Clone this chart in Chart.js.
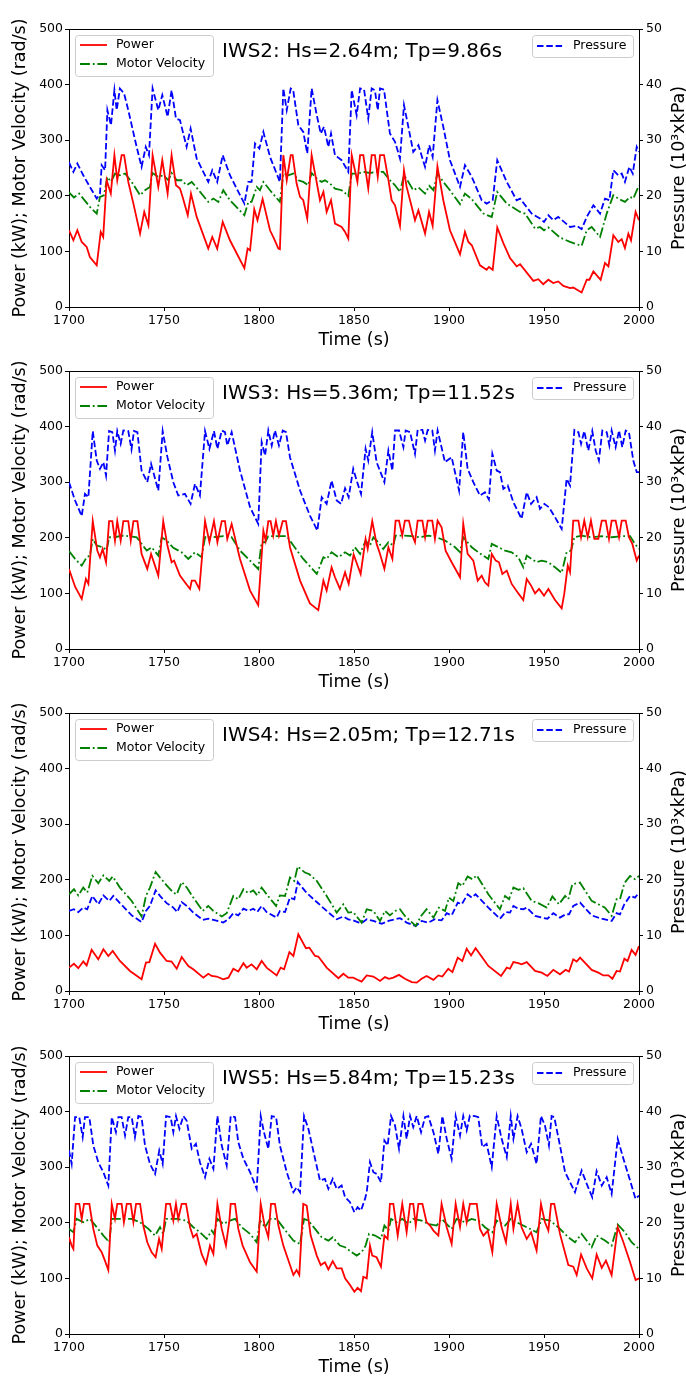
<!DOCTYPE html>
<html>
<head>
<meta charset="utf-8">
<script src="https://cdn.jsdelivr.net/npm/chart.js@4"></script>
<style>
html, body { margin: 0; padding: 0; background: #fff; width: 686px; height: 1378px; overflow: hidden; }
canvas { position: absolute; left: 0; }
</style>
</head>
<body>
<canvas id="c0" width="690" height="352" style="top:0px"></canvas>
<canvas id="c1" width="690" height="352" style="top:342px"></canvas>
<canvas id="c2" width="690" height="352" style="top:684px"></canvas>
<canvas id="c3" width="690" height="352" style="top:1027px"></canvas>
<script>
// panel titles and legend names
const panelTitles = ["IWS2: Hs=2.64m; Tp=9.86s", "IWS3: Hs=5.36m; Tp=11.52s", "IWS4: Hs=2.05m; Tp=12.71s", "IWS5: Hs=5.84m; Tp=15.23s"];
const seriesLabels = ["Power", "Motor Velocity", "Pressure"];
const timeRange = [1700, 2000];
const leftRange = [0, 500];   // kW / rad/s
const rightRange = [0, 50];   // 10^3 kPa

// [time (s), value]
const iws2Power = [[1700,138],[1702.3,120],[1704.4,138],[1706.7,117],[1709.3,108],[1711,90],[1714.6,75],[1716.7,135],[1718,126],[1719.8,228],[1722,204],[1723.9,273],[1725.4,228],[1727.7,273],[1729,273],[1731.2,225],[1733.9,186],[1737.4,132],[1739.6,171],[1741.8,147],[1744,273],[1747,216],[1749.1,264],[1751.9,204],[1754,273],[1756.3,219],[1758.4,213],[1759.8,198],[1762.5,165],[1764.2,204],[1767.2,162],[1773.3,105],[1775.4,126],[1778,105],[1780.9,153],[1784.7,120],[1792.3,70],[1794,105],[1795.3,102],[1797.5,176],[1799.2,156],[1801.9,194],[1805.8,138],[1807.9,123],[1810.2,105],[1811,104],[1812.8,273],[1814.6,228],[1816.7,273],[1817.7,273],[1819.8,222],[1821.6,198],[1823.3,192],[1825.4,159],[1827.7,273],[1830,231],[1832.1,192],[1833.9,207],[1835.6,171],[1837.9,192],[1840,150],[1843.5,144],[1845.3,135],[1847,123],[1848.8,273],[1851.8,225],[1853.2,273],[1854.9,273],[1857.5,213],[1859.3,273],[1861,273],[1862.5,234],[1863.7,273],[1865.8,273],[1868,231],[1869.8,192],[1871.6,183],[1874.2,146],[1876.3,246],[1877.7,216],[1880.4,180],[1882.1,156],[1883.9,174],[1887.4,132],[1889.5,171],[1891.4,146],[1893.9,253],[1897,192],[1900.5,138],[1905.8,95],[1908.4,135],[1910.2,117],[1912,111],[1916.3,75],[1919.8,67],[1921,72],[1923,67],[1925.4,143],[1928.6,115],[1932.1,88],[1935.6,73],[1937.4,77],[1944.4,47],[1947,50],[1949.6,41],[1952.3,49],[1954.9,43],[1957.5,46],[1960.2,38],[1963.7,34],[1965.4,35],[1969.8,26],[1972.5,49],[1973.9,49],[1976,64],[1979.8,49],[1982.1,79],[1983.9,73],[1986.5,129],[1989.1,117],[1990.9,122],[1992.6,106],[1994.4,132],[1995.8,120],[1998.2,171],[2000,156]];
const iws2Velocity = [[1700,206],[1702.6,197],[1705.3,204],[1707.5,195],[1711,180],[1714.6,168],[1716.3,198],[1718.4,201],[1720.2,234],[1722.1,225],[1724.2,240],[1726.8,237],[1729.5,240],[1733,225],[1737.4,201],[1740,210],[1742.6,216],[1743.9,241],[1747,234],[1749.6,237],[1752.3,228],[1754,241],[1756.7,228],[1759.3,228],[1761.9,219],[1764.6,225],[1769,207],[1773.3,189],[1776,195],[1778.6,189],[1781.2,210],[1784.7,192],[1792.3,165],[1794.4,189],[1796.1,189],[1798.8,216],[1800.5,210],[1802.3,225],[1805.8,210],[1811,189],[1812.8,240],[1815.4,237],[1818,240],[1820.7,228],[1823.3,225],[1825.9,219],[1827.7,241],[1830.4,231],[1833,225],[1834.7,228],[1837.4,222],[1840,213],[1843.5,210],[1847,200],[1848.8,240],[1852.3,240],[1854.9,243],[1858.4,241],[1861.9,243],[1865.4,243],[1868.9,228],[1871.6,219],[1874.2,207],[1876.3,237],[1878.6,225],[1881.2,210],[1883.9,215],[1887.4,204],[1889.6,218],[1891.8,210],[1893.9,240],[1897,225],[1900.5,210],[1905.8,185],[1908.4,204],[1912,194],[1918.1,168],[1922.5,162],[1925.4,207],[1930.4,186],[1937.4,171],[1940,168],[1945.3,141],[1947.9,144],[1950,138],[1952.3,143],[1958.4,125],[1963.7,117],[1969.8,110],[1972.5,138],[1975.1,144],[1979.5,126],[1983,168],[1986.5,201],[1989.1,195],[1992.6,189],[1995.3,198],[1997,195],[2000,219]];
const iws2Pressure = [[1700,26.0],[1702.3,24.3],[1704.4,25.8],[1707.5,23.7],[1711,21.6],[1714.6,19.5],[1716.3,20.4],[1717.2,25.5],[1719,24.6],[1720.2,35.4],[1722.1,32.7],[1723.9,39.0],[1725.1,35.4],[1726.8,39.3],[1729,38.4],[1731.2,35.4],[1735.6,28.8],[1738.2,25.2],[1740.4,28.8],[1742.1,27.3],[1744,39.3],[1747,35.4],[1749.1,38.1],[1751.9,34.2],[1754,39.0],[1756.3,33.9],[1758.4,33.6],[1761.9,28.8],[1764,32.1],[1767.2,26.7],[1773.3,22.5],[1775.4,24.6],[1778,22.5],[1780.9,27.3],[1784.7,23.7],[1792.3,18.6],[1794.4,22.5],[1796.1,22.5],[1797.9,29.4],[1800.2,28.5],[1802.3,31.5],[1805.8,27.0],[1811,22.5],[1812.8,39.3],[1814.6,35.4],[1816.7,39.3],[1818,39.0],[1820.7,32.7],[1823.3,31.5],[1825.4,27.6],[1827.7,39.3],[1830.4,34.5],[1832.5,31.2],[1834.2,32.4],[1836.5,28.8],[1837.9,31.2],[1840,27.3],[1843.5,26.4],[1847,24.3],[1848.8,39.0],[1851.4,34.5],[1853.2,39.3],[1855.3,39.1],[1857.5,33.9],[1859.3,39.3],[1861,39.0],[1862.5,35.4],[1863.7,39.3],[1865.8,39.1],[1868.9,31.2],[1871.6,29.7],[1874.2,26.7],[1876.3,36.3],[1878.6,32.4],[1881.2,27.9],[1883.9,29.1],[1887.4,25.2],[1889.6,29.1],[1891.4,27.0],[1893.9,37.2],[1897,32.4],[1900.5,26.4],[1905.8,21.6],[1908.4,25.5],[1912,23.4],[1917.2,19.2],[1919.8,18.6],[1923,19.2],[1925.4,26.4],[1930.4,22.5],[1935.6,19.2],[1937.4,19.5],[1943.5,16.8],[1947.9,15.9],[1950,15.3],[1952.3,16.5],[1954.9,15.6],[1957.5,16.2],[1963.7,14.4],[1967.2,14.6],[1969.8,14.0],[1972.5,16.2],[1976,18.3],[1979.5,16.8],[1982.1,19.5],[1984.4,19.2],[1986.5,24.6],[1989.1,23.7],[1990.9,24.0],[1992.6,22.5],[1994.9,25.2],[1996.7,24.0],[1998.8,28.8],[2000,27.9]];

const iws3Power = [[1700,144],[1703.2,112],[1706.7,90],[1708.9,126],[1710.2,117],[1712.5,230],[1714.9,177],[1716.3,165],[1717.7,180],[1719.5,156],[1721.1,230],[1722.8,230],[1724.2,195],[1725.4,230],[1727.2,195],[1728.6,230],[1731.2,230],[1732.5,195],[1733.9,230],[1736,230],[1738.2,171],[1741.2,144],[1743.2,171],[1747,132],[1749.6,230],[1751.8,186],[1754,156],[1755.3,159],[1758.4,132],[1761,120],[1763.7,108],[1764.6,123],[1766.3,123],[1768.6,108],[1771.6,230],[1773.9,192],[1776.3,230],[1778.1,192],[1780.4,230],[1782.1,230],[1783.3,198],[1785.6,225],[1790,162],[1795.3,105],[1799.6,79],[1802.3,213],[1803.5,195],[1804.9,230],[1806.1,230],[1807.5,204],[1808.9,230],[1810.5,204],[1812.5,230],[1814.2,230],[1816.3,183],[1821.6,123],[1826.8,82],[1831.2,70],[1833.9,123],[1835.6,105],[1838.2,147],[1840,129],[1842.6,108],[1845.3,138],[1847.2,117],[1849.8,170],[1853.5,135],[1856.1,198],[1857.2,180],[1859.6,230],[1861.9,189],[1863.7,171],[1866,144],[1868.1,183],[1870.2,162],[1871.9,231],[1873.7,231],[1875.4,204],[1876.8,231],[1878.9,231],[1880.7,204],[1882.1,192],[1883.5,231],[1886,231],[1887.4,201],[1888.8,231],[1891.2,231],[1892.6,198],[1894,231],[1896.1,219],[1898.2,177],[1901.4,156],[1905.8,129],[1907.5,225],[1909.8,171],[1912.8,159],[1915.1,123],[1917.2,132],[1918.9,120],[1920.7,114],[1922.5,171],[1924.6,159],[1926.3,156],[1928.1,135],[1930.4,141],[1933,117],[1936.5,100],[1939.1,88],[1940.9,126],[1943.2,114],[1945.3,100],[1947.4,108],[1950,96],[1952.3,108],[1955.8,88],[1959.3,73],[1960.7,100],[1962.5,150],[1963.7,138],[1965.4,231],[1968.1,231],[1969.5,201],[1971.2,231],[1973,201],[1974.7,231],[1976.5,198],[1978.6,198],[1980.4,231],[1982.5,231],[1984.2,198],[1985.6,231],[1987.7,231],[1989.5,201],[1990.9,231],[1993,231],[1994.7,201],[1996.5,189],[1998.8,159],[2000,168]];
const iws3Velocity = [[1700,176],[1703.2,162],[1706.7,150],[1709.3,165],[1711,168],[1712.5,198],[1714.6,186],[1718.1,183],[1719.8,177],[1721.1,201],[1724.2,201],[1727.7,204],[1731.2,203],[1735.6,201],[1740.9,177],[1743.5,183],[1747,168],[1748.8,201],[1751.4,195],[1754.9,182],[1759.3,174],[1762.8,162],[1766.3,174],[1769.8,165],[1771.6,201],[1776,201],[1781.2,203],[1785.6,201],[1790,177],[1795.3,159],[1799.6,144],[1801.4,192],[1803.2,192],[1804.9,203],[1809.3,203],[1814.6,203],[1818.1,186],[1823.3,162],[1830.4,135],[1833.9,165],[1835.6,162],[1838.2,174],[1841.8,165],[1845.3,174],[1847.9,168],[1850.5,183],[1853.2,171],[1856.1,195],[1858.4,186],[1860.2,201],[1862.8,192],[1865.4,180],[1868.1,192],[1870.7,186],[1871.9,204],[1876,204],[1880.4,203],[1884.7,201],[1889.1,204],[1893.5,201],[1897.9,195],[1903.2,183],[1905.8,174],[1907.5,201],[1912,183],[1915.4,174],[1920.7,162],[1922.5,189],[1926,183],[1929.5,177],[1933,174],[1936.5,165],[1939.1,147],[1940.9,168],[1943.5,162],[1946.1,156],[1948.8,159],[1952.3,156],[1955.8,147],[1959.3,137],[1961.9,174],[1964.2,177],[1966,201],[1969.8,204],[1975.1,201],[1980.4,203],[1985.6,201],[1990.9,203],[1995.3,203],[1997.9,189],[2000,180]];
const iws3Pressure = [[1700,30.0],[1703.2,26.7],[1706.7,23.9],[1708.4,27.9],[1710.2,27.3],[1712.5,39.2],[1714.6,33.9],[1716.3,32.4],[1718.1,33.6],[1719.5,31.2],[1721.1,39.2],[1722.8,39.0],[1724.2,35.7],[1725.4,39.2],[1727.2,36.9],[1728.6,39.3],[1731.2,39.2],[1732.9,35.9],[1734.2,39.2],[1736,39.0],[1738.2,32.1],[1741.2,30.0],[1743.2,33.3],[1747,28.5],[1749.3,39.2],[1751.8,34.5],[1754.9,30.0],[1757.5,27.6],[1761,27.9],[1764,26.1],[1766.3,29.7],[1768.9,27.6],[1771.6,39.2],[1773.9,36.0],[1776.3,39.2],[1778.1,36.0],[1780.4,39.3],[1782.1,39.0],[1783.3,36.6],[1785.6,39.0],[1790,32.1],[1795.3,25.5],[1799.6,22.5],[1801.4,37.2],[1803.2,34.8],[1804.9,39.3],[1806.7,36.6],[1808.4,39.3],[1810.5,36.6],[1812.5,39.3],[1814.2,39.0],[1816.3,34.5],[1821.6,28.5],[1826.8,24.0],[1830.7,21.3],[1833,27.3],[1835.6,26.1],[1838.2,30.3],[1840.9,26.7],[1843.2,26.1],[1845.3,28.9],[1847.2,27.3],[1849.6,32.4],[1851.4,30.3],[1853.7,27.9],[1856.1,36.0],[1857.5,33.9],[1859.6,39.0],[1861.9,33.6],[1866,30.0],[1868.1,35.7],[1870.2,32.1],[1871.6,39.3],[1873.7,39.3],[1876,36.3],[1877.2,39.3],[1879.5,39.0],[1882.1,35.1],[1883.5,39.4],[1886,39.4],[1887.4,37.5],[1888.8,39.4],[1891.2,39.3],[1892.6,35.7],[1894,39.3],[1897.9,33.6],[1901.4,34.5],[1905.3,28.5],[1907.5,39.0],[1909.8,32.4],[1912.8,30.0],[1916.3,27.6],[1918.9,28.2],[1921,26.9],[1922.8,35.1],[1925.1,32.1],[1926.8,31.8],[1928.6,28.8],[1930.9,29.4],[1933.9,26.4],[1938.2,23.4],[1940.9,28.2],[1943.2,26.1],[1946.1,27.3],[1947.9,25.2],[1950.2,26.1],[1952.6,25.5],[1955.8,23.7],[1959.3,21.6],[1961.9,30.6],[1963.7,29.4],[1966,39.4],[1968.1,39.0],[1969.5,36.9],[1971.2,39.2],[1973.3,35.7],[1975.4,39.2],[1977.2,35.7],[1978.9,33.9],[1980.7,39.3],[1983,39.0],[1984.4,36.6],[1985.6,39.3],[1987.7,36.3],[1989.5,39.3],[1991.2,36.3],[1993,39.3],[1994.7,39.0],[1997,33.9],[1998.8,31.8],[2000,31.8]];

const iws4Power = [[1700,42],[1702.6,49],[1704.9,41],[1707.5,53],[1709.3,46],[1711.9,74],[1715.4,57],[1718.1,75],[1720.7,63],[1723,72],[1726.8,54],[1732.1,36],[1738.2,21],[1740.5,51],[1742.3,52],[1745.3,85],[1747.9,69],[1751.4,54],[1754,53],[1756.7,40],[1759.3,61],[1762.8,45],[1765.4,39],[1770.7,24],[1773.3,31],[1775.1,27],[1777.7,26],[1781.2,21],[1783.9,24],[1786.5,40],[1789.1,35],[1791.8,50],[1793.5,42],[1796.1,48],[1798.8,39],[1801.4,54],[1804,42],[1809.3,28],[1811.4,42],[1813.2,39],[1816,70],[1818.1,63],[1820.7,102],[1824.7,77],[1826.5,78],[1829.5,63],[1831.2,62],[1835.6,42],[1841.8,23],[1844.4,31],[1847,24],[1849.6,24],[1852.6,19],[1854,17],[1856.7,28],[1860.2,26],[1863.7,18],[1866.3,25],[1868.4,22],[1870.7,24],[1873.7,29],[1876.8,22],[1880.4,16],[1883,15],[1885.6,22],[1888.2,27],[1891.8,20],[1894.4,28],[1896.5,26],[1899.6,40],[1901.8,34],[1904.6,60],[1907,54],[1909.3,76],[1911.6,64],[1914,77],[1920.7,45],[1927.4,27],[1930.4,42],[1932.1,40],[1933.9,52],[1936.5,50],[1938.2,48],[1940.9,52],[1945.3,36],[1948.8,33],[1951.8,27],[1954.9,38],[1958.4,30],[1961.4,38],[1963.2,35],[1965.4,57],[1967.2,53],[1969,60],[1975.1,38],[1978.6,33],[1981.2,28],[1983.9,28],[1986,22],[1988.2,36],[1990,35],[1992.3,58],[1994,54],[1996.1,74],[1998.2,65],[2000,81]];
const iws4Velocity = [[1700,174],[1702.6,183],[1704.9,172],[1707.5,186],[1709.6,177],[1712.3,207],[1715.4,194],[1718.1,208],[1721.2,198],[1723,206],[1726.8,186],[1733,162],[1738.2,134],[1740.5,171],[1742.6,186],[1745.6,214],[1747.9,204],[1751.4,190],[1754.9,177],[1756.7,174],[1759.3,196],[1762,186],[1765.4,168],[1770.4,144],[1773.3,153],[1776,144],[1780.4,134],[1783,140],[1786.5,171],[1789.1,165],[1791.8,183],[1794.4,176],[1797,181],[1799.1,172],[1801.4,186],[1804,174],[1809,153],[1811,172],[1813.7,171],[1816.3,204],[1818.6,198],[1820.4,224],[1824.2,213],[1826.5,210],[1830.4,198],[1835.6,171],[1840.9,141],[1844.4,156],[1847,141],[1849.6,142],[1852.6,129],[1854,123],[1856.7,147],[1860.2,144],[1863.7,126],[1866.3,144],[1868.9,136],[1871.6,144],[1874.2,147],[1876.8,135],[1882.5,117],[1885.3,135],[1888.2,147],[1891.8,132],[1894.7,150],[1897.9,144],[1900,168],[1902.3,162],[1904.9,194],[1907,189],[1909.8,206],[1912.3,201],[1914.6,208],[1920.7,174],[1926.8,147],[1929.5,171],[1931.6,165],[1933.9,186],[1936.5,182],[1939.1,185],[1943.5,162],[1947,158],[1951.4,150],[1954.4,170],[1957.9,156],[1961.1,171],[1962.8,165],[1964.9,192],[1968.9,195],[1975.1,162],[1978.6,156],[1982.1,150],[1985.6,135],[1988.2,165],[1990,165],[1992.3,194],[1995.3,207],[1997.9,201],[2000,207]];
const iws4Pressure = [[1700,14.4],[1702.6,14.7],[1704.9,14.2],[1707.5,15.0],[1709.6,14.7],[1712.3,17.1],[1715.4,15.6],[1718.1,17.2],[1721.2,16.2],[1723.3,17.1],[1726.8,15.8],[1733,13.6],[1738.2,12.4],[1740.5,14.4],[1742.6,15.3],[1745.6,18.1],[1747.9,17.1],[1751.4,15.8],[1754.9,15.0],[1757,14.2],[1759.3,16.0],[1762,15.3],[1765.4,14.1],[1770.4,12.8],[1773.3,13.0],[1776,12.8],[1781.2,12.3],[1783.9,12.9],[1786.5,14.0],[1789.1,13.6],[1791.8,14.8],[1794.4,14.4],[1797,14.8],[1799.1,14.2],[1801.4,15.3],[1804,14.2],[1809.3,13.2],[1811,14.4],[1813.7,14.2],[1816.3,16.8],[1818.6,16.5],[1820.4,19.6],[1824.2,18.0],[1826.8,17.1],[1830.4,16.0],[1835.6,14.4],[1840.9,12.9],[1844.4,13.4],[1847,12.9],[1849.6,12.7],[1852.6,12.3],[1854,12.2],[1856.7,12.9],[1860.2,12.6],[1864.6,12.1],[1868.1,12.6],[1874.2,13.1],[1877.7,12.3],[1882.5,11.7],[1885.6,12.6],[1889.1,12.3],[1892.6,12.9],[1896.1,12.7],[1898.8,14.0],[1901.4,13.6],[1904.6,15.9],[1906.7,15.6],[1909.8,17.4],[1912,16.8],[1914,17.4],[1920.7,15.0],[1926.8,13.0],[1929.8,14.2],[1932.1,14.1],[1933.9,15.3],[1936.5,14.8],[1939.1,14.7],[1940.9,15.0],[1945.3,13.5],[1948.8,13.2],[1951.8,13.0],[1954.9,14.0],[1958.4,13.2],[1961.4,13.8],[1963.2,13.8],[1965.4,15.3],[1969,15.9],[1975.1,13.6],[1980.4,13.0],[1985.6,12.6],[1988.2,14.0],[1990,13.8],[1992.3,15.6],[1995.3,17.1],[1997.9,16.8],[2000,17.7]];

const iws5Power = [[1700,174],[1701.4,159],[1702.3,153],[1703.5,234],[1705.4,234],[1706.7,207],[1707.9,234],[1710.7,234],[1712.8,189],[1714.9,159],[1717.2,147],[1718.9,132],[1720.7,115],[1722.5,234],[1724.2,207],[1725.4,234],[1727.7,234],[1728.9,201],[1730.4,234],[1732.5,234],[1733.9,201],[1735.3,234],[1737.4,234],[1739.1,195],[1741.2,165],[1743.5,147],[1745.6,138],[1747.4,171],[1748.8,153],[1751.1,234],[1753.2,234],[1754.9,204],[1756.3,234],[1757.5,207],[1759.3,234],[1761.6,234],[1763.7,192],[1765.4,174],[1767.2,180],[1769.8,144],[1772.1,126],[1774.2,159],[1776,144],[1778.1,234],[1780.4,189],[1782.6,159],[1784.4,204],[1785.1,234],[1787.4,234],[1789.1,189],[1791.4,159],[1795.3,129],[1798.8,112],[1800.9,234],[1802.8,198],[1804.9,174],[1806.3,234],[1808.4,234],[1810.2,195],[1812.8,159],[1816.3,124],[1818.1,106],[1819.8,115],[1821.2,106],[1823.3,234],[1825.1,231],[1827.2,177],[1830.4,141],[1832.5,124],[1834.7,129],[1836.5,116],[1838.8,131],[1840.9,118],[1843.5,118],[1845.3,100],[1847.9,88],[1850.2,76],[1851.9,83],[1853.7,77],[1854.9,103],[1856.7,100],[1858.4,159],[1859.6,141],[1861.9,138],[1864.2,121],[1866,177],[1867.7,171],[1868.9,234],[1870.7,234],[1873,177],[1875.4,234],[1877.7,183],[1879.5,234],[1881.2,234],[1882.5,195],[1883.9,234],[1886,234],[1888.2,201],[1890,195],[1891.8,186],[1894.4,177],[1896.1,234],[1898.8,192],[1901.4,162],[1903.5,234],[1905.8,192],[1907.5,234],[1909.3,201],[1911,234],[1912.8,234],[1914.6,234],[1916.3,189],[1918.1,177],[1920.4,186],[1922.8,147],[1925.1,234],[1927.7,192],[1930,165],[1932.5,234],[1933.9,189],[1936.1,234],[1938.2,192],[1940.9,171],[1943.2,183],[1946.1,150],[1948.4,234],[1950.5,201],[1952.3,186],[1953.7,234],[1955.4,234],[1958.4,180],[1962.8,124],[1965.4,121],[1967.2,106],[1969.5,143],[1972.5,118],[1975.4,100],[1977.7,143],[1980.4,119],[1982.6,132],[1985.6,106],[1988.8,192],[1991.8,165],[1995.3,129],[1998.2,97],[2000,100]];
const iws5Velocity = [[1700,189],[1702.3,183],[1704,207],[1707.5,201],[1711.1,207],[1714.6,192],[1718.1,177],[1721.2,165],[1722.5,207],[1727.7,207],[1733,207],[1737.4,201],[1741.8,189],[1745.3,177],[1747.9,192],[1749.6,180],[1751.1,207],[1756.7,207],[1761.9,204],[1765.4,192],[1768.9,183],[1772.5,171],[1775.1,186],[1776.3,180],[1778.1,207],[1781.2,198],[1784.7,204],[1787.4,207],[1790.9,192],[1795.3,180],[1798.8,165],[1800.5,204],[1803.2,192],[1805.8,207],[1809.3,207],[1814.6,183],[1818.1,168],[1821.6,162],[1823.7,207],[1826,204],[1829.5,189],[1833,174],[1836.5,168],[1838.8,174],[1842.6,159],[1845.3,156],[1848.8,147],[1851.4,141],[1854,147],[1856.1,159],[1857.9,180],[1861.1,177],[1864.2,171],[1866,195],[1868.1,186],[1869.5,207],[1872.5,201],[1875.4,207],[1878.6,198],[1881.2,207],[1885.6,204],[1889.1,198],[1893.5,195],[1896.1,207],[1901.4,189],[1904,207],[1908.4,201],[1911.9,207],[1915.4,204],[1918.9,192],[1922.8,183],[1925.1,204],[1929.5,195],[1932.5,207],[1935.6,201],[1940.9,192],[1946.1,183],[1948.8,207],[1953.2,204],[1957.5,192],[1962.8,174],[1966.3,165],[1969.8,180],[1975.1,156],[1977.7,177],[1982.1,168],[1985.6,159],[1988.8,197],[1992.6,183],[1996.1,165],[2000,153]];
const iws5Pressure = [[1700,33.0],[1701.4,30.6],[1703.2,39.0],[1705.4,39.0],[1707.2,35.4],[1708.4,39.0],[1710.7,39.0],[1712.8,33.9],[1715.4,30.9],[1718.1,29.1],[1720.7,26.7],[1722.5,39.0],[1724.7,36.3],[1726,39.0],[1727.7,39.0],[1729.5,35.7],[1731.2,39.0],[1733,39.0],[1734.7,35.4],[1736.5,39.2],[1738.2,39.0],[1740,33.9],[1742.6,30.6],[1745.3,28.8],[1747.5,33.0],[1749.3,30.6],[1751.1,39.2],[1753.5,39.0],[1754.9,36.3],[1756.3,39.2],[1758.1,36.9],[1760.2,39.2],[1761.9,38.4],[1764.6,33.3],[1766.8,34.2],[1768.9,30.9],[1771.6,28.2],[1773.9,31.5],[1776,29.7],[1778.1,39.2],[1780.4,33.9],[1783,30.3],[1785.1,39.2],[1787.4,39.0],[1789.1,34.5],[1791.8,31.5],[1795.3,29.1],[1798.8,26.1],[1800.9,39.2],[1802.6,36.3],[1804.9,33.3],[1806.7,39.2],[1809,39.0],[1811,33.9],[1814.6,29.1],[1818.1,25.5],[1819.8,26.4],[1821.6,25.5],[1823.7,39.2],[1826,36.9],[1829.5,31.5],[1832.1,27.6],[1834.7,27.9],[1836.5,26.1],[1838.8,27.9],[1840.9,26.1],[1843.5,26.7],[1845.3,24.6],[1847.9,23.7],[1850.2,21.9],[1851.9,22.8],[1853.7,22.2],[1855.8,24.3],[1856.7,25.5],[1858.4,30.9],[1860.2,29.1],[1861.9,28.8],[1864.2,27.3],[1866,34.8],[1867.7,33.9],[1869.5,39.2],[1871.6,37.5],[1873.7,33.3],[1876,39.2],[1877.7,35.1],[1879.5,39.2],[1881.2,37.2],[1883,39.2],[1885.3,36.3],[1887.4,39.0],[1889.1,39.2],[1891.8,36.3],[1894.4,32.4],[1896.5,39.2],[1898.8,35.1],[1901.4,31.5],[1903.5,39.2],[1905.8,35.7],[1907.5,39.2],[1909.3,36.6],[1911,39.3],[1913.7,39.2],[1915.4,39.0],[1917.5,33.6],[1919.8,34.2],[1922.5,30.0],[1925.1,39.2],[1927.7,35.1],[1930.4,31.8],[1932.5,39.2],[1933.9,35.1],[1936.1,39.2],[1938.2,36.9],[1940.9,32.7],[1943.2,34.2],[1946.1,30.6],[1948.4,39.2],[1950.5,37.5],[1952.6,33.9],[1954,39.2],[1955.4,39.0],[1958.4,33.9],[1961.1,29.1],[1963.7,27.3],[1966.3,25.5],[1969.8,29.4],[1972.5,27.0],[1975.4,24.6],[1977.7,29.3],[1980.4,26.7],[1983,28.2],[1985.6,25.2],[1988.8,35.1],[1991.8,31.5],[1995.3,27.6],[1998.2,24.3],[2000,24.9]];

const panels = [
    [iws2Power, iws2Velocity, iws2Pressure],
    [iws3Power, iws3Velocity, iws3Pressure],
    [iws4Power, iws4Velocity, iws4Pressure],
    [iws5Power, iws5Velocity, iws5Pressure]
];

const FONT = "DejaVu Sans";
Chart.defaults.font.family = FONT;
Chart.defaults.color = "#000";

const LW = 1.8;
const styles = [
    { color: "#ff0000", dash: [], axis: "y" },
    { color: "#008000", dash: [10, 2.8, 1.8, 2.8], axis: "y" },
    { color: "#0000ff", dash: [6.5, 2.8], axis: "y2" }
];

function legendBox(ctx, x, y, w, h) {
    ctx.beginPath();
    ctx.roundRect(x + 0.5, y + 0.5, w, h, 3);
    ctx.fillStyle = "rgba(255,255,255,0.8)";
    ctx.fill();
    ctx.strokeStyle = "#cccccc";
    ctx.lineWidth = 1;
    ctx.stroke();
}

function legendLine(ctx, x1, x2, y, s) {
    ctx.save();
    ctx.setLineDash(s.dash);
    ctx.strokeStyle = s.color;
    ctx.lineWidth = LW;
    ctx.beginPath();
    ctx.moveTo(x1, y);
    ctx.lineTo(x2, y);
    ctx.stroke();
    ctx.restore();
}

// frame top, legends, in-plot title and the right-hand axis title
const overlay = {
    id: "overlay",
    afterDraw(chart, args, opts) {
        const ctx = chart.ctx;
        const a = chart.chartArea;
        ctx.save();
        ctx.strokeStyle = "#000";
        ctx.lineWidth = 1;
        ctx.beginPath();
        ctx.moveTo(a.left, a.top + 0.5);
        ctx.lineTo(a.right, a.top + 0.5);
        ctx.stroke();

        ctx.font = "12.5px '" + FONT + "'";
        ctx.textBaseline = "middle";
        ctx.textAlign = "left";

        legendBox(ctx, a.left + 6, a.top + 6, 138, 41);
        legendLine(ctx, a.left + 11, a.left + 38, a.top + 16, styles[0]);
        legendLine(ctx, a.left + 11, a.left + 38, a.top + 35, styles[1]);
        ctx.fillStyle = "#000";
        ctx.fillText(seriesLabels[0], a.left + 47, a.top + 16);
        ctx.fillText(seriesLabels[1], a.left + 47, a.top + 35);

        legendBox(ctx, a.right - 107, a.top + 6, 101, 22);
        legendLine(ctx, a.right - 102, a.right - 76, a.top + 17, styles[2]);
        ctx.fillStyle = "#000";
        ctx.fillText(seriesLabels[2], a.right - 66, a.top + 17);

        ctx.font = "20px '" + FONT + "'";
        ctx.fillText(opts.title, a.left + 153, a.top + 23);

        ctx.translate(679, (a.top + a.bottom) / 2);
        ctx.rotate(-Math.PI / 2);
        ctx.textAlign = "center";
        ctx.font = "17.5px '" + FONT + "'";
        ctx.fillText("Pressure (10³xkPa)", 0, 0);
        ctx.restore();
    }
};

const tickFont = { size: 12.5 };
const titleFont = { size: 17.5 };
const axisGrid = { drawOnChartArea: false, drawTicks: true, tickLength: 4, color: "#000" };
const axisBorder = { display: true, color: "#000", width: 1 };

panels.forEach(function (series, i) {
    const datasets = series.map(function (pts, k) {
        return {
            label: seriesLabels[k],
            data: pts.map(p => ({ x: p[0], y: p[1] })),
            yAxisID: styles[k].axis,
            borderColor: styles[k].color,
            borderDash: styles[k].dash,
            borderWidth: LW,
            pointRadius: 0,
            tension: 0,
            fill: false
        };
    });

    new Chart(document.getElementById("c" + i), {
        type: "line",
        data: { datasets: datasets },
        plugins: [overlay],
        options: {
            responsive: false,
            animation: false,
            devicePixelRatio: 1,
            layout: { padding: { top: 29, left: 0, right: 0, bottom: 0 } },
            plugins: {
                legend: { display: false },
                tooltip: { enabled: false },
                overlay: { title: panelTitles[i] }
            },
            scales: {
                x: {
                    type: "linear",
                    min: timeRange[0],
                    max: timeRange[1],
                    grid: axisGrid,
                    border: axisBorder,
                    ticks: { stepSize: 50, font: tickFont, padding: 2, maxRotation: 0, callback: v => String(v) },
                    title: { display: true, text: "Time (s)", font: titleFont, padding: { top: 0, bottom: 1.5 } },
                    afterFit(s) { s.height = 45; }
                },
                y: {
                    position: "left",
                    min: leftRange[0],
                    max: leftRange[1],
                    grid: axisGrid,
                    border: axisBorder,
                    ticks: { stepSize: 100, font: tickFont, padding: 2, callback: v => String(v) },
                    title: { display: true, text: "Power (kW); Motor Velocity (rad/s)", font: titleFont, padding: { top: 10, bottom: 0 } },
                    afterFit(s) { s.width = 69; }
                },
                y2: {
                    position: "right",
                    min: rightRange[0],
                    max: rightRange[1],
                    grid: axisGrid,
                    border: axisBorder,
                    ticks: { stepSize: 10, font: tickFont, padding: 3, callback: v => String(v) },
                    afterFit(s) { s.width = 51; }
                }
            }
        }
    });
});
</script>
</body>
</html>
